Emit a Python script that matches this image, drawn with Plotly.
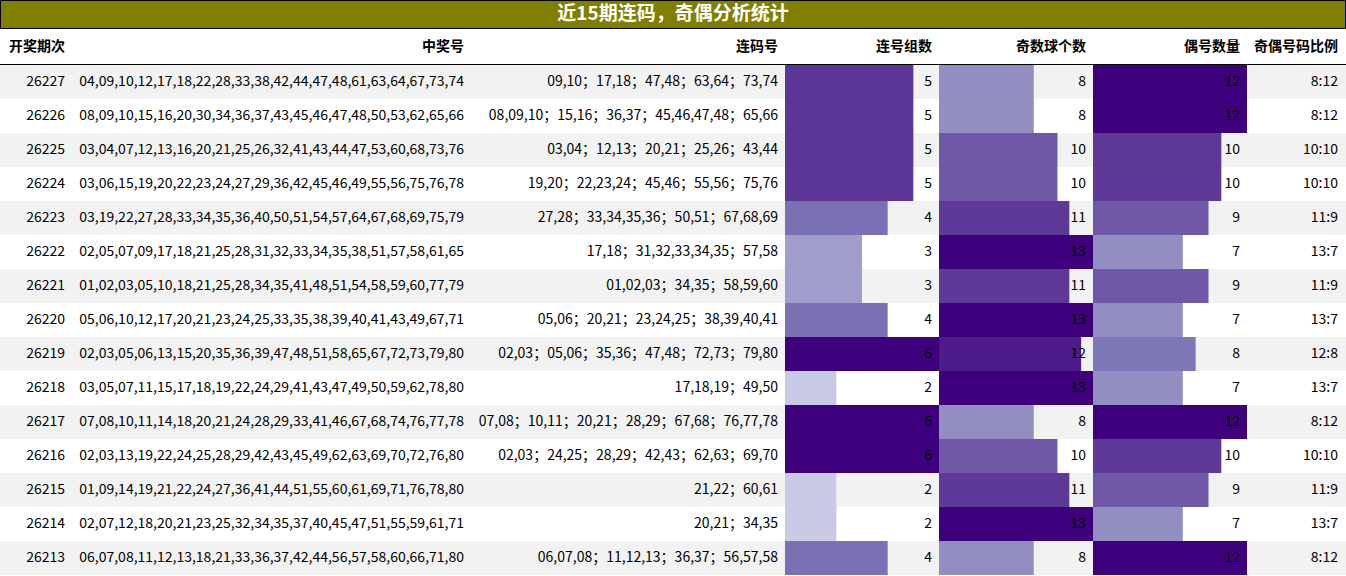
import plotly.graph_objects as go
from plotly.colors import sample_colorscale

periods = ["26227","26226","26225","26224","26223","26222","26221","26220","26219","26218","26217","26216","26215","26214","26213"]
numbers = [
"04,09,10,12,17,18,22,28,33,38,42,44,47,48,61,63,64,67,73,74",
"08,09,10,15,16,20,30,34,36,37,43,45,46,47,48,50,53,62,65,66",
"03,04,07,12,13,16,20,21,25,26,32,41,43,44,47,53,60,68,73,76",
"03,06,15,19,20,22,23,24,27,29,36,42,45,46,49,55,56,75,76,78",
"03,19,22,27,28,33,34,35,36,40,50,51,54,57,64,67,68,69,75,79",
"02,05,07,09,17,18,21,25,28,31,32,33,34,35,38,51,57,58,61,65",
"01,02,03,05,10,18,21,25,28,34,35,41,48,51,54,58,59,60,77,79",
"05,06,10,12,17,20,21,23,24,25,33,35,38,39,40,41,43,49,67,71",
"02,03,05,06,13,15,20,35,36,39,47,48,51,58,65,67,72,73,79,80",
"03,05,07,11,15,17,18,19,22,24,29,41,43,47,49,50,59,62,78,80",
"07,08,10,11,14,18,20,21,24,28,29,33,41,46,67,68,74,76,77,78",
"02,03,13,19,22,24,25,28,29,42,43,45,49,62,63,69,70,72,76,80",
"01,09,14,19,21,22,24,27,36,41,44,51,55,60,61,69,71,76,78,80",
"02,07,12,18,20,21,23,25,32,34,35,37,40,45,47,51,55,59,61,71",
"06,07,08,11,12,13,18,21,33,36,37,42,44,56,57,58,60,66,71,80",
]
consec = [
"09,10；17,18；47,48；63,64；73,74",
"08,09,10；15,16；36,37；45,46,47,48；65,66",
"03,04；12,13；20,21；25,26；43,44",
"19,20；22,23,24；45,46；55,56；75,76",
"27,28；33,34,35,36；50,51；67,68,69",
"17,18；31,32,33,34,35；57,58",
"01,02,03；34,35；58,59,60",
"05,06；20,21；23,24,25；38,39,40,41",
"02,03；05,06；35,36；47,48；72,73；79,80",
"17,18,19；49,50",
"07,08；10,11；20,21；28,29；67,68；76,77,78",
"02,03；24,25；28,29；42,43；62,63；69,70",
"21,22；60,61",
"20,21；34,35",
"06,07,08；11,12,13；36,37；56,57,58",
]
groups = [5,5,5,5,4,3,3,4,6,2,6,6,2,2,4]
odds = [8,8,10,10,11,13,11,13,12,13,8,10,11,13,8]
evens = [12,12,10,10,9,7,9,7,8,7,12,10,9,7,12]
ratios = ["8:12","8:12","10:10","10:10","11:9","13:7","11:9","13:7","12:8","13:7","8:12","10:10","11:9","13:7","8:12"]
headers = ["开奖期次","中奖号","连码号","连号组数","奇数球个数","偶号数量","奇偶号码比例"]
title = "近15期连码，奇偶分析统计"

W, H = 1346, 576
top, rh = 65, 34
ys = [top + rh/2 + i*rh for i in range(len(periods))]
FONT = "Noto Sans CJK SC"

fig = go.Figure()
shapes = []
for i, y in enumerate(ys):
    if i % 2 == 0:
        shapes.append(dict(type="rect", xref="x", yref="y", x0=0, x1=W, y0=y-rh/2, y1=y+rh/2,
                           fillcolor="#f2f2f2", line_width=0, layer="below"))
shapes.append(dict(type="rect", xref="x", yref="y", x0=0.5, x1=W-0.5, y0=0.5, y1=28.5,
                   fillcolor="#808000", line=dict(color="#000", width=1), layer="below"))
shapes.append(dict(type="line", xref="x", yref="y", x0=0, x1=W, y0=64.5, y1=64.5,
                   line=dict(color="#000", width=1)))

def colors(vals, lo_c):
    lo, hi = min(vals), max(vals)
    return [sample_colorscale("Purples", lo_c + (1-lo_c)*(v-lo)/(hi-lo))[0] for v in vals]

bar_cols = [(groups, 785, 932, 6, 0.32), (odds, 939, 1086, 13, 0.55), (evens, 1093, 1240, 12, 0.55)]
for vals, x0, tx, mx, lc in bar_cols:
    fig.add_trace(go.Bar(y=ys, x=[v*154/mx for v in vals], base=x0, orientation="h",
                         width=rh, marker=dict(color=colors(vals, lc), line_width=0),
                         hoverinfo="skip", showlegend=False))
    fig.add_trace(go.Scatter(x=[tx]*len(vals), y=ys, text=[str(v) for v in vals], mode="text",
                             textposition="middle left", textfont=dict(family=FONT, size=14, color="#000"),
                             hoverinfo="skip", showlegend=False))

for col, tx in [(periods, 65), (numbers, 464), (consec, 778), (ratios, 1338)]:
    fig.add_trace(go.Scatter(x=[tx]*len(col), y=ys, text=col, mode="text",
                             textposition="middle left", textfont=dict(family=FONT, size=14, color="#000"),
                             hoverinfo="skip", showlegend=False))

hx = [65, 464, 778, 932, 1086, 1240, 1338]
fig.add_trace(go.Scatter(x=hx, y=[47]*len(hx), text=["<b>%s</b>" % h for h in headers], mode="text",
                         textposition="middle left", textfont=dict(family=FONT, size=14, color="#000"),
                         hoverinfo="skip", showlegend=False))
fig.add_trace(go.Scatter(x=[W/2], y=[15], text=["<b>%s</b>" % title], mode="text",
                         textposition="middle center", textfont=dict(family=FONT, size=19, color="#fff"),
                         hoverinfo="skip", showlegend=False))

fig.update_layout(width=W, height=H, margin=dict(l=0, r=0, t=0, b=0),
                  plot_bgcolor="#fff", paper_bgcolor="#fff", shapes=shapes, barmode="overlay",
                  xaxis=dict(range=[0, W], visible=False, fixedrange=True),
                  yaxis=dict(range=[H, 0], visible=False, fixedrange=True))
fig.write_html("out.html", config={"displayModeBar": False},
               post_script="document.body.style.margin='0';document.body.style.overflow='hidden';")
